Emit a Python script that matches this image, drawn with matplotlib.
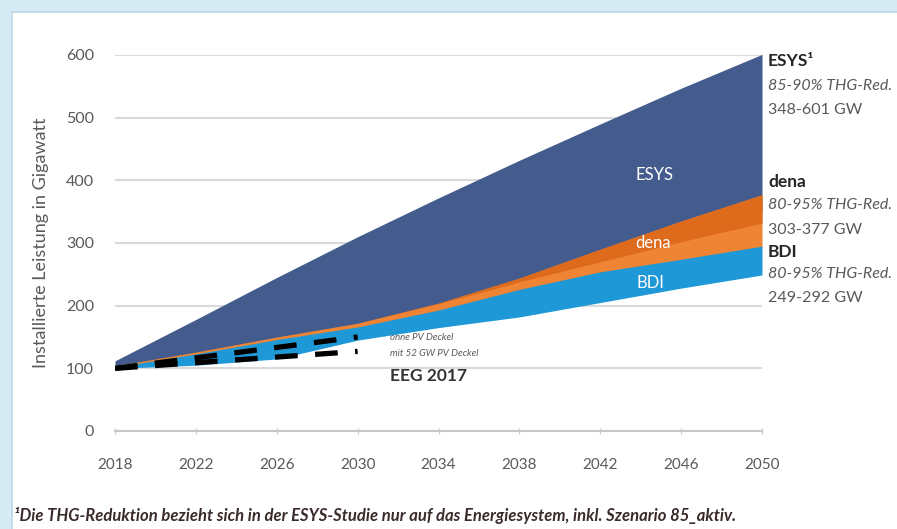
import numpy as np
import matplotlib.pyplot as plt
from matplotlib.patches import Rectangle
import matplotlib
matplotlib.rcParams['font.family'] = ['Lato', 'DejaVu Sans']

# Stützjahre
years = [2018, 2022, 2026, 2030, 2034, 2038, 2042, 2046, 2050]

# Korridore (GW)
esys_high = [112, 178, 245, 310, 372, 432, 490, 547, 601]
esys_low = [105, 120, 135, 160, 192, 232, 275, 315, 348]
dena_high = [104, 126, 150, 172, 204, 244, 290, 335, 377]
dena_mid = [104, 126, 150, 172, 203, 238, 270, 302, 332]
dena_low = [100, 118, 140, 160, 186, 220, 250, 270, 292]
bdi_high = [102, 123, 146, 166, 193, 226, 254, 274, 295]
bdi_low = [100, 105, 115, 145, 165, 182, 205, 228, 249]

# EEG 2017 (gestrichelt)
eeg_years = [2018, 2030]
eeg_ohne = [100, 150]
eeg_mit = [100, 127]

xticks = [2018, 2022, 2026, 2030, 2034, 2038, 2042, 2046, 2050]
yticks = [0, 100, 200, 300, 400, 500, 600]

C_ESYS = '#435C8D'
C_DENA = '#EE8434'
C_DENA2 = '#DE6A1C'
C_BDI = '#1E98D6'
GREY = '#595959'

fig = plt.figure(figsize=(8.97, 5.29), dpi=100)
fig.patch.set_facecolor('#D6ECF4')
panel = Rectangle((12/897, -0.01), 1 - 12/897 + 0.01, 1 - 12/529 + 0.01, transform=fig.transFigure,
                  facecolor='white', edgecolor='#BCD8E4', linewidth=1.2, zorder=-5)
fig.patches.append(panel)

ax = fig.add_axes([115/897, 1 - 431/529, (762 - 115)/897, (431 - 55)/529])
ax.set_facecolor('none')

ax.fill_between(years, esys_low, esys_high, color=C_ESYS, linewidth=0, zorder=2)
ax.fill_between(years, dena_low, dena_high, color=C_DENA, linewidth=0, zorder=3)
ax.fill_between(years, dena_mid, dena_high, color=C_DENA2, linewidth=0, zorder=3)
ax.fill_between(years, bdi_low, bdi_high, color=C_BDI, linewidth=0, zorder=4)

ax.plot(eeg_years, eeg_ohne, color='black', linewidth=3.8, dashes=(4.3, 3.3), zorder=5)
ax.plot(eeg_years, eeg_mit, color='black', linewidth=3.8, dashes=(4.3, 3.3), zorder=5)

ax.set_xlim(2018, 2050)
ax.set_ylim(0, 600)
ax.set_xticks(xticks)
ax.set_yticks(yticks)
ax.grid(True, axis='y', color='#D9D9D9', linewidth=1.5, zorder=1)
ax.set_axisbelow(True)
for s in ['top', 'right', 'left']:
    ax.spines[s].set_visible(False)
ax.spines['bottom'].set_color('#C8C8C8')
ax.spines['bottom'].set_linewidth(1.5)
ax.tick_params(axis='x', direction='inout', length=5, color='#C8C8C8', pad=17,
               labelsize=11, labelcolor=GREY)
ax.tick_params(axis='y', length=0, pad=15, labelsize=11.5, labelcolor=GREY)
ax.set_ylabel('Installierte Leistung in Gigawatt', fontsize=13, color=GREY, labelpad=12)

# Beschriftungen in den Flächen
ax.text(2044.7, 408, 'ESYS', color='white', fontsize=12, ha='center', va='center', zorder=6)
ax.text(2044.6, 300, 'dena', color='white', fontsize=12, ha='center', va='center', zorder=6)
ax.text(2044.5, 236, 'BDI', color='white', fontsize=12, ha='center', va='center', zorder=6)

ax.text(2031.6, 149, 'ohne PV Deckel', color=GREY, fontsize=7, style='italic', va='center')
ax.text(2031.6, 123, 'mit 52 GW PV Deckel', color=GREY, fontsize=7, style='italic', va='center')
ax.text(2031.6, 87, 'EEG 2017', color='#333333', fontsize=12.5, fontweight='bold', va='center')

# Rechte Legende
tx = 2050.3
ax.text(tx, 590, 'ESYS¹', color='#262626', fontsize=12.5, fontweight='bold', va='center', clip_on=False)
ax.text(tx, 550, '85-90% THG-Red.', color=GREY, fontsize=11.5, style='italic', va='center', clip_on=False)
ax.text(tx, 512, '348-601 GW', color=GREY, fontsize=11.5, va='center', clip_on=False)
ax.text(tx, 397, 'dena', color='#262626', fontsize=12.5, fontweight='bold', va='center', clip_on=False)
ax.text(tx, 360, '80-95% THG-Red.', color=GREY, fontsize=11.5, style='italic', va='center', clip_on=False)
ax.text(tx, 321, '303-377 GW', color=GREY, fontsize=11.5, va='center', clip_on=False)
ax.text(tx, 285, 'BDI', color='#262626', fontsize=12.5, fontweight='bold', va='center', clip_on=False)
ax.text(tx, 250, '80-95% THG-Red.', color=GREY, fontsize=11.5, style='italic', va='center', clip_on=False)
ax.text(tx, 212, '249-292 GW', color=GREY, fontsize=11.5, va='center', clip_on=False)

fig.text(14/897, 1 - 515/529,
         '¹Die THG-Reduktion bezieht sich in der ESYS-Studie nur auf das Energiesystem, inkl. Szenario 85_aktiv.',
         color='#3A2A2A', fontsize=12, style='italic', fontweight='bold', va='center')

plt.savefig('out.png', dpi=100)
